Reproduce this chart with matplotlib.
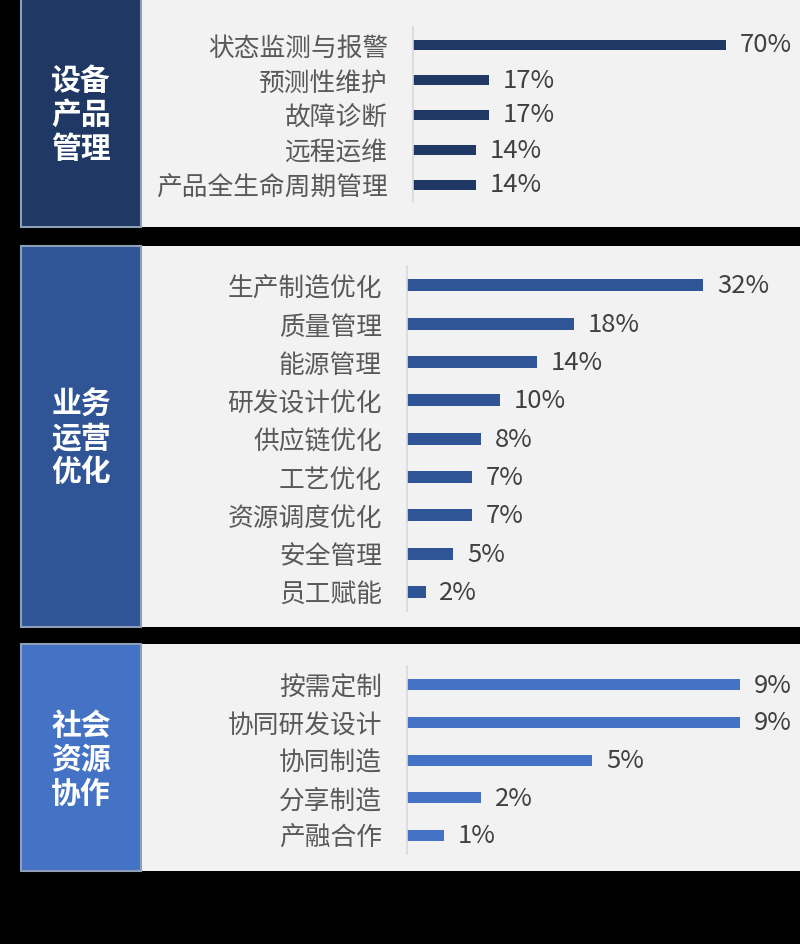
import matplotlib.pyplot as plt
from matplotlib.patches import Rectangle

plt.rcParams["font.family"] = ["Noto Sans CJK SC", "DejaVu Sans"]

# data
group_titles = ["设备\n产品\n管理", "业务\n运营\n优化", "社会\n资源\n协作"]

device_labels = ["状态监测与报警", "预测性维护", "故障诊断", "远程运维", "产品全生命周期管理"]
device_values = [70, 17, 17, 14, 14]

business_labels = ["生产制造优化", "质量管理", "能源管理", "研发设计优化", "供应链优化",
                   "工艺优化", "资源调度优化", "安全管理", "员工赋能"]
business_values = [32, 18, 14, 10, 8, 7, 7, 5, 2]

social_labels = ["按需定制", "协同研发设计", "协同制造", "分享制造", "产融合作"]
social_values = [9, 9, 5, 2, 1]

colors = ["#1f3864", "#2f5597", "#4472c4"]

W, H = 800, 945
fig = plt.figure(figsize=(W / 100, H / 100), dpi=100, facecolor="black")


def fx(x):
    return x / W


def fy(y):
    return 1 - y / H


# pixel layout of each panel: box top/bottom, axis line top/bottom, axis x, px per unit, bar height px
layouts = [
    dict(top=0, bottom=228, ax_top=28, ax_bot=203, ax_x=413, scale=4.47, bar_px=10, title_y=115),
    dict(top=247, bottom=628, ax_top=267, ax_bot=612, ax_x=407, scale=9.25, bar_px=12, title_y=438),
    dict(top=645, bottom=872, ax_top=667, ax_bot=855, ax_x=407, scale=37.0, bar_px=11, title_y=760),
]
panels = [
    (device_labels, device_values),
    (business_labels, business_values),
    (social_labels, social_values),
]

for (labels, values), lay, color, title in zip(panels, layouts, colors, group_titles):
    # light gray background area
    fig.add_artist(Rectangle((fx(141), fy(lay["bottom"])), fx(W - 141), (lay["bottom"] - lay["top"]) / H,
                             transform=fig.transFigure, facecolor="#f2f2f2", edgecolor="none", zorder=0))
    # colored title box
    fig.add_artist(Rectangle((fx(21), fy(lay["bottom"])), fx(120), (lay["bottom"] - lay["top"]) / H,
                             transform=fig.transFigure, facecolor=color, edgecolor="#8da0b8",
                             linewidth=1.5, zorder=1))
    fig.text(fx(81), fy(lay["title_y"]), title, color="white", fontsize=21.5, fontweight="bold",
             ha="center", va="center", linespacing=1.15)

    n = len(labels)
    span_px = lay["ax_bot"] - lay["ax_top"]
    step_px = span_px / n
    ax = fig.add_axes([fx(lay["ax_x"]), fy(lay["ax_bot"]), fx(W - lay["ax_x"]), span_px / H])
    ax.patch.set_alpha(0)
    y = list(range(n))
    ax.barh(y, values, height=lay["bar_px"] / step_px, color=color)
    ax.set_ylim(n - 0.5, -0.5)
    ax.set_xlim(0, (W - lay["ax_x"]) / lay["scale"])
    ax.set_yticks(y)
    ax.set_yticklabels(labels, fontsize=18.5, color="#595959")
    ax.tick_params(axis="y", length=0, pad=18)
    ax.set_xticks([])
    for side in ["top", "right", "bottom"]:
        ax.spines[side].set_visible(False)
    ax.spines["left"].set_color("#d9d9d9")
    ax.spines["left"].set_linewidth(1.2)
    for yi, v in zip(y, values):
        ax.annotate(f"{v}%", (v, yi), xytext=(10, 0), textcoords="offset points",
                    va="center", ha="left", fontsize=18.5, color="#404040")

fig.savefig("out.png", dpi=100, facecolor="black")
